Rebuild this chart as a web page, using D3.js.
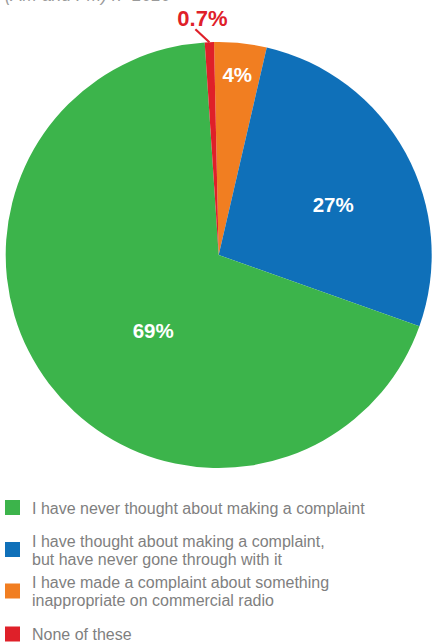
<!DOCTYPE html>
<html>
<head>
<meta charset="utf-8">
<script src="https://cdn.jsdelivr.net/npm/d3@7"></script>
<style>
  html, body { margin: 0; padding: 0; background: #fff; }
  svg { display: block; }
</style>
</head>
<body>
<div id="chart"></div>
<script>
// ---- data ----
const categories = [
  "I have never thought about making a complaint",
  "I have thought about making a complaint, but have never gone through with it",
  "I have made a complaint about something inappropriate on commercial radio",
  "None of these"
];
const legendLines = [
  ["I have never thought about making a complaint"],
  ["I have thought about making a complaint,", "but have never gone through with it"],
  ["I have made a complaint about something", "inappropriate on commercial radio"],
  ["None of these"]
];
const values = [69, 27, 4, 0.7];
const valueLabels = ["69%", "27%", "4%", "0.7%"];
const subtitle = "(AM and FM) n=1010";

// ---- style ----
const colors = ["#3cb44b", "#0f70b9", "#f17e21", "#df2029"];
const W = 432, H = 644;
const cx = 218.7, cy = 255, R = 213;
// drawing order clockwise from top: orange, blue, green, red
const drawOrder = [2, 1, 0, 3];
const startDeg = -1.26;
// label placement (radius, per slice index)
const labelRadius = [100, 125, 181, 0];
const labelAngleShift = [-12, 5, 0, 0]; // degrees

const svg = d3.select("#chart").append("svg")
  .attr("width", W).attr("height", H);

svg.append("text")
  .attr("x", 5).attr("y", 1)
  .attr("font-family", "Liberation Sans, Arial, sans-serif")
  .attr("font-style", "italic")
  .attr("font-size", 17.5)
  .attr("fill", "#9a9a9a")
  .text(subtitle);

const start = startDeg * Math.PI / 180;
const pie = d3.pie().sort(null).value(i => values[i])
  .startAngle(start).endAngle(start + 2 * Math.PI);
const arcs = pie(drawOrder);
const arc = d3.arc().innerRadius(0).outerRadius(R);

const g = svg.append("g").attr("transform", `translate(${cx},${cy})`);
g.selectAll("path.slice").data(arcs).join("path")
  .attr("class", "slice")
  .attr("d", arc)
  .attr("fill", d => colors[d.data]);

// labels inside slices
arcs.forEach(d => {
  const i = d.data;
  if (i === 3) return;
  const a = (d.startAngle + d.endAngle) / 2 + labelAngleShift[i] * Math.PI / 180;
  const r = labelRadius[i];
  g.append("text")
    .attr("x", Math.sin(a) * r)
    .attr("y", -Math.cos(a) * r)
    .attr("text-anchor", "middle")
    .attr("dominant-baseline", "central")
    .attr("font-family", "Liberation Sans, Arial, sans-serif")
    .attr("font-weight", "bold")
    .attr("font-size", 20.5)
    .attr("fill", "#fff")
    .text(valueLabels[i]);
});

// leader label for the small slice
const red = arcs.find(d => d.data === 3);
const ra = (red.startAngle + red.endAngle) / 2;
const p0 = [Math.sin(ra) * R, -Math.cos(ra) * R];
const p1 = [p0[0] - 14, p0[1] - 13];
g.append("line")
  .attr("x1", p0[0]).attr("y1", p0[1])
  .attr("x2", p1[0]).attr("y2", p1[1])
  .attr("stroke", colors[3]).attr("stroke-width", 2.2);
g.append("text")
  .attr("x", p1[0] + 7).attr("y", p1[1] - 3)
  .attr("text-anchor", "middle")
  .attr("font-family", "Liberation Sans, Arial, sans-serif")
  .attr("font-weight", "bold")
  .attr("font-size", 22)
  .attr("fill", colors[3])
  .text(valueLabels[3]);

// legend
const legendY = [507.5, 549.5, 591, 634];
const lineH = 18;
const leg = svg.append("g");
categories.forEach((c, i) => {
  leg.append("rect")
    .attr("x", 5).attr("y", legendY[i] - 7.5)
    .attr("width", 15).attr("height", 15)
    .attr("fill", colors[i]);
  const lines = legendLines[i];
  const t = leg.append("text")
    .attr("font-family", "Liberation Sans, Arial, sans-serif")
    .attr("font-size", 16)
    .attr("fill", "#7f7f7f");
  lines.forEach((ln, k) => {
    t.append("tspan")
      .attr("x", 32)
      .attr("y", legendY[i] + 6 + (k - (lines.length - 1) / 2) * lineH)
      .text(ln);
  });
});
</script>
</body>
</html>
